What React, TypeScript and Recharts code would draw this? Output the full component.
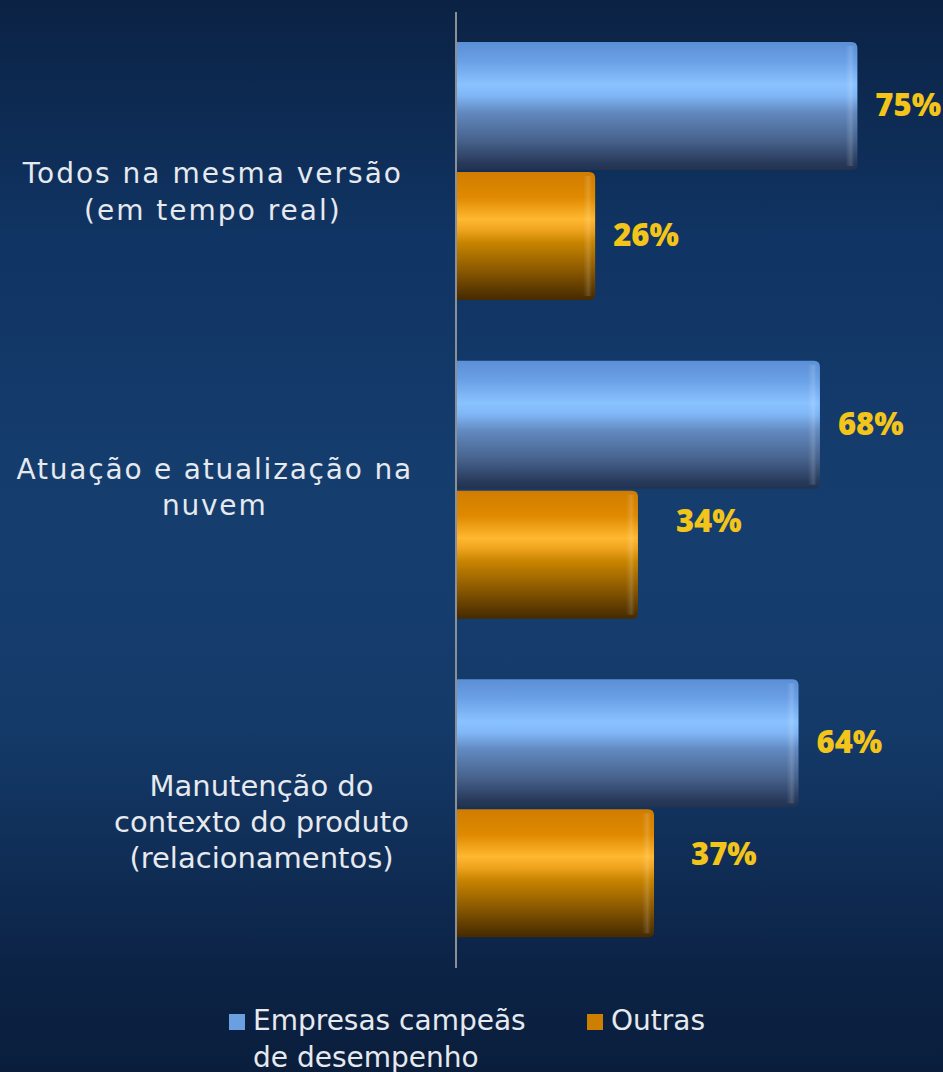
import { BarChart, Bar, XAxis, YAxis, LabelList } from 'recharts';

const categories = [
  'Todos na mesma versão\n(em tempo real)',
  'Atuação e atualização na\nnuvem',
  'Manutenção do\ncontexto do produto\n(relacionamentos)',
];
const campeas = [75, 68, 64];
const outras = [26, 34, 37];
const seriesNames = ['Empresas campeãs de desempenho', 'Outras'];

const data = categories.map((name, i) => ({ name, campeas: campeas[i], outras: outras[i] }));

// hand placement of the category labels / moved value labels in the original slide
const tickNudge = [
  { dy: 21, ls: 2, lh: 37, right: 402, size: 28 },
  { dy: -3, ls: 1.8, lh: 36, right: 412, size: 28 },
  { dy: 13, ls: 0, lh: 36, right: 409, size: 29 },
];
const outrasLabelNudge = [
  { dx: 0, dy: 0 },
  { dx: 20, dy: -33 },
  { dx: 19, dy: -18 },
];
const legendColors = ['#6a9fe0', '#cc7f00'];

let ctx: CanvasRenderingContext2D | null = null;
const measure = (s: string, font: string, ls: number) => {
  if (!ctx) ctx = document.createElement('canvas').getContext('2d');
  if (!ctx) return s.length * 16;
  ctx.font = font;
  return ctx.measureText(s).width + ls * (s.length - 1);
};

const CategoryTick = (props: any) => {
  const { y, payload } = props;
  const idx = categories.indexOf(payload.value);
  const nudge = tickNudge[idx] || { dy: 0, ls: 0, lh: 36, right: 408, size: 28 };
  const lines = String(payload.value).split('\n');
  const font = `${nudge.size}px "DejaVu Sans"`;
  const maxW = Math.max(...lines.map((l) => measure(l, font, nudge.ls)));
  const cx = nudge.right - maxW / 2;
  return (
    <g>
      {lines.map((l, i) => (
        <text
          key={i}
          x={cx}
          y={y + nudge.dy + (i - (lines.length - 1) / 2) * nudge.lh}
          textAnchor="middle"
          dominantBaseline="central"
          fill="#e6e9ee"
          fontSize={nudge.size}
          fontFamily="DejaVu Sans"
          letterSpacing={nudge.ls}
        >
          {l}
        </text>
      ))}
    </g>
  );
};

const CylBar = (props: any) => {
  const { x, y, width, height, gradId } = props;
  if (!width || width <= 0) return null;
  const r = 6;
  const d = `M${x},${y} H${x + width - r} Q${x + width},${y} ${x + width},${y + r} V${y + height - r} Q${x + width},${y + height} ${x + width - r},${y + height} H${x} Z`;
  return (
    <g>
      <path d={d} fill={`url(#${gradId})`} />
      <rect x={x + width - 12} y={y + 4} width={9} height={height - 8} fill="url(#capGlow)" />
    </g>
  );
};

const ValueLabel = (props: any) => {
  const { x, y, width, height, value, index, nudge } = props;
  const n = nudge ? nudge[index] : { dx: 0, dy: 0 };
  return (
    <text
      x={x + width + 18 + n.dx}
      y={y + height / 2 + n.dy - 2}
      dominantBaseline="central"
      fill="#f3c419"
      fontSize={31}
      fontWeight={800}
      fontFamily="Open Sans"
    >
      {value}%
    </text>
  );
};

const App = () => {
  return (
    <div
      style={{
        position: 'relative',
        width: 943,
        height: 1072,
        background: 'linear-gradient(180deg, #0b2244 0%, #103463 22%, #153e6f 48%, #143a69 68%, #0c2346 90%, #0a1e3c 100%)',
        overflow: 'hidden',
      }}
    >
      <style>{'body{margin:0}'}</style>
      <BarChart
        width={943}
        height={1072}
        data={data}
        layout="vertical"
        margin={{ top: 12, right: 0, bottom: 104, left: 0 }}
        barCategoryGap={30}
        barGap={2}
      >
        <defs>
          <linearGradient id="gBlue" x1="0" y1="0" x2="0" y2="1">
            <stop offset="0" stopColor="#5b8fd6" />
            <stop offset="0.15" stopColor="#6aa0e6" />
            <stop offset="0.33" stopColor="#8ac2ff" />
            <stop offset="0.42" stopColor="#80b6f6" />
            <stop offset="0.55" stopColor="#6289c0" />
            <stop offset="0.77" stopColor="#47628c" />
            <stop offset="0.95" stopColor="#27395a" />
            <stop offset="1" stopColor="#22324f" />
          </linearGradient>
          <linearGradient id="gOrange" x1="0" y1="0" x2="0" y2="1">
            <stop offset="0" stopColor="#d07c00" />
            <stop offset="0.2" stopColor="#e08a00" />
            <stop offset="0.37" stopColor="#ffb830" />
            <stop offset="0.45" stopColor="#f0a420" />
            <stop offset="0.55" stopColor="#c98500" />
            <stop offset="0.77" stopColor="#8a5800" />
            <stop offset="0.95" stopColor="#533300" />
            <stop offset="1" stopColor="#452a00" />
          </linearGradient>
          <linearGradient id="capGlow" x1="0" y1="0" x2="1" y2="0">
            <stop offset="0" stopColor="#ffffff" stopOpacity="0" />
            <stop offset="0.6" stopColor="#ffffff" stopOpacity="0.15" />
            <stop offset="1" stopColor="#ffffff" stopOpacity="0" />
          </linearGradient>
        </defs>
        <XAxis type="number" hide domain={[0, 91]} />
        <YAxis
          type="category"
          dataKey="name"
          width={456}
          axisLine={{ stroke: '#8b8f96', strokeWidth: 2 }}
          tickLine={false}
          tick={CategoryTick}
          interval={0}
        />
        <Bar
          dataKey="campeas"
          name={seriesNames[0]}
          isAnimationActive={false}
          shape={(p: any) => <CylBar {...p} gradId="gBlue" />}
        >
          <LabelList dataKey="campeas" content={(p: any) => <ValueLabel {...p} />} />
        </Bar>
        <Bar
          dataKey="outras"
          name={seriesNames[1]}
          isAnimationActive={false}
          shape={(p: any) => <CylBar {...p} gradId="gOrange" />}
        >
          <LabelList dataKey="outras" content={(p: any) => <ValueLabel {...p} nudge={outrasLabelNudge} />} />
        </Bar>
      </BarChart>
      <div
        style={{
          position: 'absolute',
          top: 1002,
          left: 229,
          display: 'flex',
          gap: 49,
          fontFamily: 'DejaVu Sans',
          fontSize: 28,
          lineHeight: '37px',
          color: '#e6e9ee',
        }}
      >
        {seriesNames.map((n, i) => (
          <div key={n} style={{ display: 'flex', alignItems: 'flex-start' }}>
            <span
              style={{ width: 16, height: 16, background: legendColors[i], marginTop: 12, marginRight: 8, flex: 'none' }}
            />
            <span style={{ maxWidth: 285 }}>{n}</span>
          </div>
        ))}
      </div>
    </div>
  );
};

export default App;
